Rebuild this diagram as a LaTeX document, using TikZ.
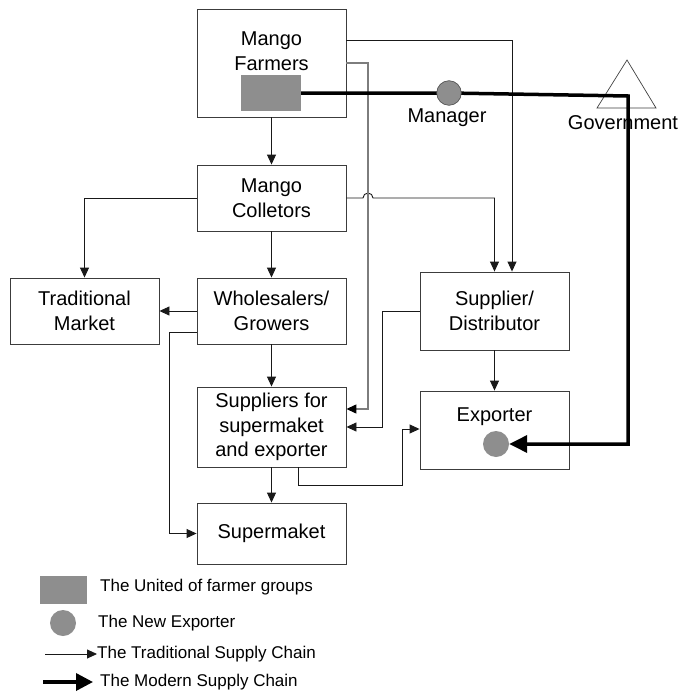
\documentclass[tikz,border=0pt]{standalone}
\usepackage{fontspec}
\setmainfont{Liberation Sans}
\usetikzlibrary{arrows.meta}
\definecolor{fillgray}{RGB}{142,142,142}
\definecolor{boxline}{RGB}{60,60,60}
\definecolor{feedgray}{RGB}{125,125,125}

\begin{document}
\begin{tikzpicture}[x=1pt,y=-1pt,
  box/.style={draw=boxline,line width=0.9pt,inner sep=0pt,align=center,
    minimum width=149pt,font=\fontsize{20}{24.5}\selectfont},
  boxtext/.style={inner sep=0pt,align=center,font=\fontsize{20}{24.5}\selectfont},
  flow/.style={draw=black!90,line width=0.9pt,-{Triangle[length=10pt,width=9pt]}},
  feed/.style={draw=feedgray,line width=1.3pt,-{Triangle[length=10pt,width=9pt,color=black]}},
  modern/.style={line width=3.5pt,-{Triangle[length=18pt,width=17pt]}},
  lbl/.style={inner sep=0pt,font=\fontsize{20}{24}\selectfont},
  legtext/.style={anchor=west,inner sep=0pt,font=\fontsize{17}{20}\selectfont},
]
\useasboundingbox[fill=white] (0,0) rectangle (683,693);

% supply chain boxes
\node[box,minimum height=108pt] (farm)   at (271.5,63)  {};
\node[boxtext] (farmtxt) at (271.5,51) {Mango\\Farmers};
\node[box,minimum height=66pt]  (coll)   at (271.5,198) {Mango\\Colletors};
\node[box,minimum height=66pt]  (trad)   at (84.5,311)  {Traditional\\Market};
\node[box,minimum height=66pt]  (whole)  at (271.5,311) {Wholesalers/\\Growers};
\node[box,minimum height=78pt]  (supd)   at (494.5,311) {Supplier/\\Distributor};
\node[box,minimum height=80pt]  (suppl)  at (271.5,427) {Suppliers for\\supermaket\\and exporter};
\node[box,minimum height=78pt]  (expo)   at (494.5,430) {};
\node[boxtext] (expotxt) at (494.5,417) {Exporter};
\node[box,minimum height=61pt]  (superm) at (271.5,533.5) {Supermaket};

% farmer group block inside the farmers box
\node[fill=fillgray,minimum width=60pt,minimum height=36pt,inner sep=0pt] (ugroup) at (271,93) {};

% government triangle and label
\draw[draw=black!75,line width=0.7pt,fill=white] (627,60) -- (656,108) -- (597,108) -- cycle;
\node[lbl] (govlbl) at (623,122.5) {Government};
\node[lbl] (mgrlbl) at (447,118) {Manager};

% traditional supply chain
\draw[flow] (farm.south) -- (coll.north);
\draw[flow] (coll.west) -| (trad.north);
\draw[flow] (coll.south) -- (whole.north);
\draw[flow] (coll.east) -- (363,198) arc[start angle=180,end angle=0,radius=5pt]
  -| (supd.north);
\draw[flow] (farm.east |- 0,40) -| ([xshift=17.5pt]supd.north);
\draw[feed] (farm.east) -- (368,63) |- (suppl.east |- 0,409);
\draw[flow] (whole.west) -- (trad.east);
\draw[flow] (whole.west |- 0,332) -- (169,332) |- (superm.west);
\draw[flow] (whole.south) -- (suppl.north);
\draw[flow] (supd.west) -- (382,311) |- (suppl.east);
\draw[flow] (supd.south) -- (expo.north);
\draw[flow] (298,467) -- (298,485) -- (402,485) |- (expo.west |- 0,429);
\draw[flow] (suppl.south) -- (superm.north);

% modern supply chain
\node[circle,minimum size=26pt,inner sep=0pt] (newexp) at (496,444) {};
\coordinate (govcorner) at (628,96);
\draw[modern] (ugroup.east) -- (449,93) -- (govcorner) |- (newexp.east);
\node[circle,fill=fillgray,draw=black!70,line width=0.6pt,minimum size=24.6pt,inner sep=0pt] (mgr) at (449,93) {};
\node[circle,fill=fillgray,minimum size=26pt,inner sep=0pt] at (newexp) {};

% legend
\node[fill=fillgray,minimum width=47pt,minimum height=28pt,inner sep=0pt] (legrect) at (63.5,590) {};
\node[legtext] (legrecttxt) at (100,587) {The United of farmer groups};
\node[circle,fill=fillgray,minimum size=26pt,inner sep=0pt] (legcirc) at (63,623) {};
\node[legtext] (legcirctxt) at (98,623) {The New Exporter};
\coordinate (tradA) at (45,654);
\node[legtext] (legtradtxt) at (97,654) {The Traditional Supply Chain};
\draw[flow] (tradA) -- (legtradtxt.west);
\coordinate (modA) at (43,682);
\node[legtext] (legmodtxt) at (100,682) {The Modern Supply Chain};
\draw[modern,-{Triangle[length=17pt,width=17pt]}] (modA) -- ([xshift=-7pt]legmodtxt.west);
\end{tikzpicture}
\end{document}
